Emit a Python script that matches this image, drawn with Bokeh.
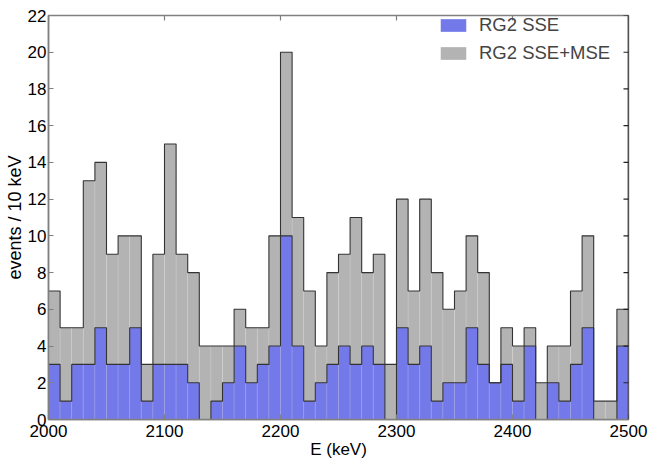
import numpy as np
from bokeh.plotting import figure
from bokeh.models import Range1d, FixedTicker, Legend, LegendItem, ColumnDataSource, Span
from bokeh.embed import file_html
from bokeh.resources import INLINE

# 10 keV bins from 2000 to 2500 keV
bin_width = 10
e_start = 2000
total = [7, 5, 5, 13, 14, 9, 10, 10, 3, 9,
         15, 9, 8, 4, 4, 4, 6, 5, 5, 10,
         20, 11, 7, 4, 8, 9, 11, 8, 9, 3,
         12, 7, 12, 8, 6, 7, 10, 8, 2, 5,
         4, 5, 2, 4, 4, 7, 10, 1, 1, 6]
sse = [3, 1, 3, 3, 5, 3, 3, 5, 1, 3,
       3, 3, 2, 0, 1, 2, 4, 2, 3, 4,
       10, 4, 1, 2, 3, 4, 3, 4, 3, 0,
       5, 3, 4, 1, 2, 2, 5, 3, 2, 3,
       1, 4, 0, 2, 1, 3, 5, 0, 0, 4]
x_ticks = [2000, 2100, 2200, 2300, 2400, 2500]
y_ticks = list(range(0, 23, 2))
x_lo, x_hi = 2000, 2500
y_lo, y_hi = 0, 22

n = len(total)
left = e_start + bin_width * np.arange(n)
right = left + bin_width
edges = np.append(left, right[-1])

src = ColumnDataSource(dict(left=left, right=right, total=total, sse=sse,
                            bottom=np.zeros(n)))

FONT = "Liberation Sans"
GRAY = "#b3b3b3"
BLUE = "#7479ea"
EDGE = "#333333"
AXIS = "#808080"

p = figure(width=648, height=464, output_backend="svg", toolbar_location=None,
           x_range=Range1d(x_lo, x_hi), y_range=Range1d(y_lo, y_hi),
           min_border_left=48, min_border_right=20, min_border_top=15, min_border_bottom=45,
           x_axis_label="E (keV)", y_axis_label="events / 10 keV")
p.frame_width = 580
p.frame_height = 404
p.xgrid.visible = False
p.ygrid.visible = False
p.outline_line_color = AXIS
p.outline_line_width = 1.5
p.background_fill_color = "white"
p.border_fill_color = "white"

r_tot = p.quad(left="left", right="right", bottom="bottom", top="total", source=src,
               fill_color=GRAY, line_color="white", line_alpha=0.1, line_width=1)
r_sse = p.quad(left="left", right="right", bottom="bottom", top="sse", source=src,
               fill_color=BLUE, line_color="white", line_alpha=0.12, line_width=1)
p.step(x=edges, y=list(total) + [total[-1]], mode="after", line_color=EDGE, line_width=1.1)
p.step(x=edges, y=list(sse) + [sse[-1]], mode="after", line_color=EDGE, line_width=1.1)

# inward ticks on the top and right frame edges (half of each dash is clipped by the frame)
p.scatter(x=x_ticks, y=[y_hi] * len(x_ticks), marker="dash", size=10, angle=np.pi / 2,
          line_color=AXIS, line_width=1.2)
p.scatter(x=[x_hi] * len(y_ticks), y=y_ticks, marker="dash", size=10,
          line_color="#222222", line_width=1.2)
p.add_layout(Span(location=x_hi, dimension="height", line_color="#222222", line_width=1.5))

def style(ax):
    ax.major_tick_in = 5
    ax.major_tick_out = 0
    ax.minor_tick_in = 0
    ax.minor_tick_out = 0
    ax.axis_line_color = AXIS
    ax.axis_line_width = 1.5
    ax.major_tick_line_color = AXIS
    ax.major_tick_line_width = 1.2
    ax.major_label_text_font = FONT
    ax.major_label_text_font_size = "17px"
    ax.major_label_text_color = "black"
    ax.axis_label_text_font = FONT
    ax.axis_label_text_font_size = "17px"
    ax.axis_label_text_font_style = "normal"
    ax.axis_label_text_color = "black"

xax = p.xaxis[0]
xax.ticker = FixedTicker(ticks=x_ticks)
style(xax)
xax.major_label_standoff = 5
xax.axis_label_standoff = 0

yax = p.yaxis[0]
yax.ticker = FixedTicker(ticks=y_ticks)
style(yax)
yax.axis_label_text_font_size = "18px"
yax.major_label_standoff = 2
yax.axis_label_standoff = 0

legend = Legend(items=[LegendItem(label="RG2 SSE", renderers=[r_sse]),
                       LegendItem(label="RG2 SSE+MSE", renderers=[r_tot])],
                location=(389, 355))
legend.padding = 0
legend.margin = 0
legend.spacing = 6
legend.glyph_width = 32
legend.glyph_height = 16
legend.label_height = 16
legend.label_standoff = 10
legend.label_text_font = FONT
legend.label_text_font_size = "18.5px"
legend.label_text_baseline = "middle"
legend.border_line_color = None
legend.background_fill_alpha = 0
p.add_layout(legend, "center")

open("out.html", "w").write(file_html(p, INLINE))
